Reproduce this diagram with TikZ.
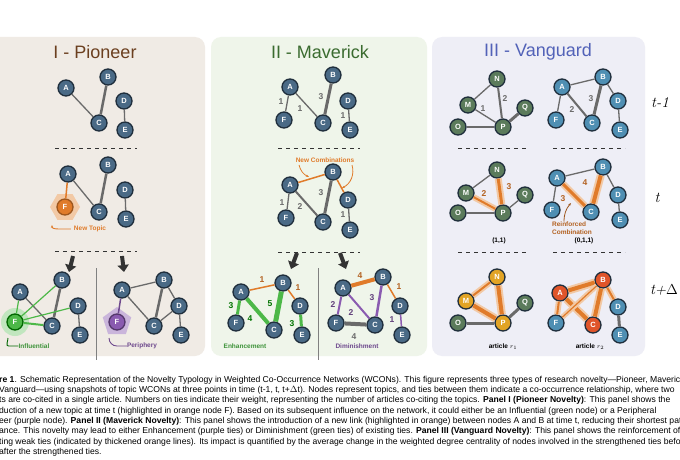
\documentclass[tikz,border=0pt]{standalone}
\usepackage{fontspec}
\setsansfont{Liberation Sans}
\usetikzlibrary{arrows.meta,shapes.geometric}
\definecolor{nodeblue}{HTML}{4A6A86}
\definecolor{lightblue}{HTML}{4F8FB3}
\definecolor{darkgreen}{HTML}{5B7B5B}
\definecolor{nodeborder}{HTML}{1F2E3C}
\definecolor{tiegray}{HTML}{6A6A6A}
\definecolor{ora}{HTML}{E07B2A}
\definecolor{orahalo}{HTML}{F2C9A5}
\definecolor{grn}{HTML}{4DB848}
\definecolor{pur}{HTML}{8A5BB0}
\definecolor{yel}{HTML}{E2A425}
\definecolor{redn}{HTML}{E0552A}
\definecolor{bgone}{HTML}{F0EBE5}
\definecolor{bgtwo}{HTML}{EFF5EA}
\definecolor{bgthree}{HTML}{EEEEF6}
\definecolor{ttlone}{HTML}{6B3F1F}
\definecolor{ttltwo}{HTML}{3A6B2F}
\definecolor{ttlthree}{HTML}{5262B8}

\begin{document}
\begin{tikzpicture}[x=1pt,y=-1pt,
    every node/.style={inner sep=0pt},
    tn/.style={draw=nodeborder,line width=1.3pt,circle,minimum size=16pt,fill=nodeblue,text=white,font=\sffamily\bfseries\fontsize{7.5}{8}\selectfont},
    tie/.style={draw=tiegray,line width=#1},
    tie/.default=1.3pt,
    hl/.style={draw=ora,line width=#1,preaction={draw=orahalo,line width=#1+4pt}},
    hl/.default=1.5pt,
    wl/.style={font=\sffamily\bfseries\fontsize{8.5}{9}\selectfont,text=tiegray},
    lab/.style={font=\sffamily\bfseries\fontsize{6.5}{7.5}\selectfont},
    sep/.style={draw=black!80,line width=1pt,dash pattern=on 4pt off 4pt},
    bigarrow/.style={draw=black!80,line width=4pt,-{Triangle[length=7pt,width=11pt]}},
    ttl/.style={font=\sffamily\fontsize{18}{21}\selectfont},
    tl/.style={font=\itshape\fontsize{15}{18}\selectfont}]
\useasboundingbox (0,0) rectangle (680,460);
\fill[white] (0,0) rectangle (680,460);

% panels
\fill[bgone,rounded corners=10pt] (-10,37) rectangle (205,356);
\fill[bgtwo,rounded corners=10pt] (211,37) rectangle (427,356);
\fill[bgthree,rounded corners=10pt] (432,37) rectangle (645,356);
\node[ttl,text=ttlone] (t1) at (95,52) {I - Pioneer};
\node[ttl,text=ttltwo] (t2) at (320,52) {II - Maverick};
\node[ttl,text=ttlthree] (t3) at (538,52) {III - Vanguard};

% time labels
\node[tl] (tA) at (660,103) {t-1};
\node[tl] (tB) at (657,198) {t};
\node[tl] (tC) at (664,290) {t+$\Delta$};

% dashed separators
\draw[sep] (55,148) -- (137,148);
\draw[sep] (55,251) -- (137,251);
\draw[sep] (278,148) -- (360,148);
\draw[sep] (278,252) -- (360,252);
\draw[sep] (458,148) -- (528,148);
\draw[sep] (553,148) -- (625,148);
\draw[sep] (458,252) -- (528,252);
\draw[sep] (553,252) -- (625,252);
\draw[gray,line width=0.8pt] (96,268) -- (96,360);
\draw[gray,line width=0.8pt] (318,268) -- (318,360);

% ---------- Panel I ----------
\node[tn] (pA) at (66,88) {A};
\node[tn] (pB) at (108,77) {B};
\node[tn] (pC) at (99,123) {C};
\node[tn] (pD) at (124,101) {D};
\node[tn] (pE) at (125,130) {E};
\path (pA) edge[tie] (pC) (pB) edge[tie=2.5pt] (pC) (pD) edge[tie] (pE);

\node[regular polygon,regular polygon sides=6,fill=orahalo,minimum size=30pt] (qHex) at (65,207) {};
\node[tn,fill=ora,draw=ora!70!black] (qF) at (65,207) {F};
\node[tn] (qA) at (68,174) {A};
\node[tn] (qB) at (108,165) {B};
\node[tn] (qC) at (99,212) {C};
\node[tn] (qD) at (125,190) {D};
\node[tn] (qE) at (126,219) {E};
\path (qA) edge[draw=ora,line width=1.5pt] (qF) (qA) edge[tie] (qC) (qB) edge[tie=2.5pt] (qC) (qD) edge[tie] (qE);
\node[lab,text=ora] (qNew) at (90,229) {New Topic};
\coordinate (qHook) at (52,225);
\draw[ora,line width=0.9pt,-{Stealth[length=3pt]}] (qNew.west) ++(-3,0) -- ++(-9,0) to[out=180,in=-90] (qHook);

\coordinate (pa1) at (73,256);
\coordinate (pa2) at (122,256);
\draw[bigarrow] (pa1) -- ++(-4,16);
\draw[bigarrow] (pa2) -- ++(2,16);

\node[circle,fill=grn!35,minimum size=28pt] (rGlow) at (15,322) {};
\node[tn,fill=grn,draw=green!40!black] (rF) at (15,322) {F};
\node[tn] (rA) at (20,292) {A};
\node[tn] (rB) at (62,280) {B};
\node[tn] (rC) at (52,326) {C};
\node[tn] (rD) at (78,306) {D};
\node[tn] (rE) at (80,335) {E};
\path (rA) edge[tie] (rC) (rB) edge[tie=2.5pt] (rC) (rD) edge[tie] (rE);
\path[draw=grn,line width=1.2pt] (rF) edge (rA) (rF) edge (rB) (rF) edge (rD) (rF) edge[line width=2pt] (rC);
\node[lab,text=grn!80!black] (rLab) at (34,346) {Influential};
\coordinate (rHook) at (8,338);
\draw[green!40!black,line width=0.9pt] (rLab.west) -- ++(-10,0) to[out=180,in=-90] (rHook);

\node[regular polygon,regular polygon sides=5,fill=pur!45,minimum size=30pt] (sPen) at (117,322) {};
\node[tn,fill=pur,draw=pur!60!black] (sF) at (117,322) {F};
\node[tn] (sA) at (122,290) {A};
\node[tn] (sB) at (164,280) {B};
\node[tn] (sC) at (154,326) {C};
\node[tn] (sD) at (179,306) {D};
\node[tn] (sE) at (181,335) {E};
\path (sA) edge[tie] (sB) (sA) edge[tie] (sC) (sB) edge[tie=2.5pt] (sC) (sB) edge[tie] (sD)
      (sD) edge[tie] (sC) (sD) edge[tie] (sE) (sA) edge[draw=pur!80!black,line width=1.5pt] (sF);
\node[lab,text=pur!80!black] (sLab) at (142,346) {Periphery};
\coordinate (sHook) at (109,338);
\draw[pur!80!black,line width=0.9pt] (sLab.west) -- ++(-10,0) to[out=180,in=-90] (sHook);

% ---------- Panel II ----------
\node[tn] (mA) at (290,87) {A};
\node[tn] (mB) at (333,75) {B};
\node[tn] (mC) at (323,123) {C};
\node[tn] (mD) at (348,101) {D};
\node[tn] (mE) at (350,130) {E};
\node[tn] (mF) at (284,120) {F};
\path (mA) edge[tie] (mF) (mA) edge[tie] (mC) (mB) edge[tie=3pt] (mC) (mD) edge[tie] (mE);
\node[wl] (mw1) at (281,102) {1};
\node[wl] (mw2) at (300,109) {1};
\node[wl] (mw3) at (321,97) {3};
\node[wl] (mw4) at (343,116) {1};

\node[tn] (nA) at (290,185) {A};
\node[tn] (nB) at (333,172) {B};
\node[tn] (nC) at (323,222) {C};
\node[tn] (nD) at (348,200) {D};
\node[tn] (nE) at (350,230) {E};
\node[tn] (nF) at (286,218) {F};
\path (nA) edge[draw=ora,line width=1.5pt] (nB) (nB) edge[draw=ora,line width=1.5pt] (nD)
      (nA) edge[tie] (nF) (nA) edge[tie=2pt] (nC) (nB) edge[tie=3pt] (nC) (nD) edge[tie] (nE);
\node[wl] (nw1) at (282,203) {1};
\node[wl] (nw2) at (300,207) {2};
\node[wl] (nw3) at (321,193) {3};
\node[wl] (nw4) at (343,215) {1};
\node[lab,text=ora] (nNew) at (325,160) {New Combinations};
\coordinate (nAB) at (309,177);
\coordinate (nBD) at (342,188);
\draw[ora,line width=0.8pt,-{Stealth[length=3pt]}] (299,165) to[bend right=25] (nAB);
\draw[ora,line width=0.8pt,-{Stealth[length=3pt]}] (352,165) to[bend left=40] (nBD);

\coordinate (ma1) at (297,253);
\coordinate (ma2) at (340,253);
\draw[bigarrow] (ma1) -- ++(-6,16);
\draw[bigarrow] (ma2) -- ++(6,16);

\node[tn] (eA) at (241,292) {A};
\node[tn] (eB) at (283,283) {B};
\node[tn] (eC) at (274,330) {C};
\node[tn] (eD) at (300,306) {D};
\node[tn] (eE) at (302,335) {E};
\node[tn] (eF) at (236,323) {F};
\path (eA) edge[draw=ora,line width=1.5pt] (eB) (eB) edge[draw=ora,line width=1.5pt] (eD)
      (eA) edge[draw=grn,line width=3pt] (eF) (eA) edge[draw=grn,line width=4pt] (eC)
      (eB) edge[draw=grn,line width=5pt] (eC) (eD) edge[draw=grn,line width=3pt] (eE);
\node[wl,text=ora!80!black] (ew1) at (262,280) {1};
\node[wl,text=ora!80!black] (ew2) at (298,288) {1};
\node[wl,text=green!45!black] (ew3) at (231,306) {3};
\node[wl,text=green!45!black] (ew4) at (250,319) {4};
\node[wl,text=green!45!black] (ew5) at (270,304) {5};
\node[wl,text=green!45!black] (ew6) at (292,324) {3};
\node[lab,text=grn!80!black] (eLab) at (245,346) {Enhancement};

\node[tn] (dA) at (343,288) {A};
\node[tn] (dB) at (383,277) {B};
\node[tn] (dC) at (375,325) {C};
\node[tn] (dD) at (400,306) {D};
\node[tn] (dE) at (402,335) {E};
\node[tn] (dF) at (336,323) {F};
\path (dA) edge[draw=ora,line width=4pt] (dB) (dB) edge[draw=ora,line width=1.5pt] (dD)
      (dF) edge[tie=4pt] (dC)
      (dA) edge[draw=pur,line width=2pt] (dF) (dA) edge[draw=pur,line width=2pt] (dC)
      (dB) edge[draw=pur,line width=2.5pt] (dC) (dD) edge[draw=pur,line width=1.5pt] (dE);
\node[wl,text=ora!80!black] (dw1) at (360,276) {4};
\node[wl,text=ora!80!black] (dw2) at (399,287) {1};
\node[wl,text=pur!70!black] (dw3) at (333,305) {2};
\node[wl,text=pur!70!black] (dw4) at (351,313) {2};
\node[wl,text=pur!70!black] (dw5) at (372,298) {3};
\node[wl,text=pur!70!black] (dw6) at (392,320) {1};
\node[wl] (dw7) at (354,337) {4};
\node[lab,text=pur!80!black] (dLab) at (357,346) {Diminishment};

% ---------- Panel III ----------
\tikzset{gn/.style={tn,fill=darkgreen},bn/.style={tn,fill=lightblue}}
\node[gn] (vN) at (497,79) {N};
\node[gn] (vM) at (468,105) {M};
\node[gn] (vO) at (458,127) {O};
\node[gn] (vP) at (503,127) {P};
\node[gn] (vQ) at (525,108) {Q};
\path (vM) edge[tie] (vN) (vM) edge[tie] (vP) (vN) edge[tie=2pt] (vP) (vO) edge[tie] (vP) (vP) edge[tie=3pt] (vQ);
\node[wl] (vw1) at (483,109) {1};
\node[wl] (vw2) at (505,99) {2};

\node[bn] (wA) at (562,87) {A};
\node[bn] (wB) at (603,77) {B};
\node[bn] (wC) at (592,123) {C};
\node[bn] (wD) at (618,101) {D};
\node[bn] (wE) at (620,130) {E};
\node[bn] (wF) at (556,120) {F};
\path (wA) edge[tie] (wB) (wA) edge[tie] (wF) (wA) edge[tie=2pt] (wC) (wB) edge[tie=3pt] (wC)
      (wB) edge[tie] (wD) (wD) edge[tie] (wE);
\node[wl] (ww1) at (572,110) {2};
\node[wl] (ww2) at (591,99) {3};

\node[gn] (xN) at (497,170) {N};
\node[gn] (xM) at (466,193) {M};
\node[gn] (xO) at (458,213) {O};
\node[gn] (xP) at (503,213) {P};
\node[gn] (xQ) at (525,195) {Q};
\path (xM) edge[tie] (xN) (xO) edge[tie] (xP) (xP) edge[tie] (xQ);
\path (xM) edge[hl=2pt] (xP) (xN) edge[hl=3pt] (xP);
\node[wl,text=ora!80!black] (xw1) at (484,194) {2};
\node[wl,text=ora!80!black] (xw2) at (509,187) {3};
\node[lab] (xLab) at (499,241) {(1,1)};

\node[bn] (yA) at (557,178) {A};
\node[bn] (yB) at (603,167) {B};
\node[bn] (yC) at (591,212) {C};
\node[bn] (yD) at (618,195) {D};
\node[bn] (yE) at (620,220) {E};
\node[bn] (yF) at (552,210) {F};
\path (yA) edge[tie] (yB) (yA) edge[tie] (yF) (yB) edge[tie] (yD) (yD) edge[tie] (yE);
\path (yA) edge[hl=3pt] (yC) (yB) edge[hl=4pt] (yC);
\node[wl,text=ora!80!black] (yw1) at (563,199) {3};
\node[wl,text=ora!80!black] (yw2) at (585,183) {4};
\node[lab,text=ora!80!black,align=left] (yLab) at (572,228) {Reinforced\\Combination};
\coordinate (yTip) at (571,203);
\draw[ora!70!black,line width=0.8pt,-{Stealth[length=3pt]}] (yLab.north) ++(-8,0) to[bend left=20] (yTip);
\node[lab] (yTup) at (584,241) {(0,1,1)};

\node[tn,fill=yel] (zN) at (497,277) {N};
\node[tn,fill=yel] (zM) at (466,301) {M};
\node[gn] (zO) at (458,323) {O};
\node[tn,fill=yel] (zP) at (503,323) {P};
\node[gn] (zQ) at (525,303) {Q};
\path (zO) edge[tie=3pt] (zP) (zP) edge[tie=3pt] (zQ);
\path (zM) edge[hl=2pt] (zN) (zM) edge[hl=4pt] (zP) (zN) edge[hl=4pt] (zP);
\node[lab] (zLab) at (503,347) {article $r_1$};

\node[tn,fill=redn] (uA) at (560,293) {A};
\node[tn,fill=redn] (uB) at (603,280) {B};
\node[tn,fill=redn] (uC) at (593,325) {C};
\node[bn] (uD) at (618,307) {D};
\node[bn] (uE) at (620,335) {E};
\node[bn] (uF) at (556,323) {F};
\path (uD) edge[tie=3pt] (uE);
\path (uA) edge[hl=4pt] (uB) (uA) edge[hl=2pt] (uF) (uA) edge[hl=4pt] (uC) (uB) edge[hl=4pt] (uC)
      (uB) edge[hl=1.2pt] (uF) (uB) edge[hl=2pt] (uD);
\node[lab] (uLab) at (590,347) {article $r_2$};

% ---------- caption ----------
\begin{scope}[every node/.style={anchor=west,inner sep=0pt,font=\sffamily\fontsize{8.6}{10}\selectfont}]
\node (c1) at (-1,380) {\textbf{re 1}. Schematic Representation of the Novelty Typology in Weighted Co-Occurrence Networks (WCONs). This figure represents three types of research novelty---Pioneer, Maverick,};
\node (c2) at (-1,390.3) {Vanguard---using snapshots of topic WCONs at three points in time (t-1, t, t+$\Delta$t). Nodes represent topics, and ties between them indicate a co-occurrence relationship, where two};
\node (c3) at (-1,400.6) {ts are co-cited in a single article. Numbers on ties indicate their weight, representing the number of articles co-citing the topics. \textbf{Panel I (Pioneer Novelty)}: This panel shows the};
\node (c4) at (-1,410.9) {duction of a new topic at time t (highlighted in orange node F). Based on its subsequent influence on the network, it could either be an Influential (green node) or a Peripheral};
\node (c5) at (-1,421.2) {eer (purple node). \textbf{Panel II (Maverick Novelty)}: This panel shows the introduction of a new link (highlighted in orange) between nodes A and B at time t, reducing their shortest path};
\node (c6) at (-1,431.5) {ance. This novelty may lead to either Enhancement (purple ties) or Diminishment (green ties) of existing ties. \textbf{Panel III (Vanguard Novelty)}: This panel shows the reinforcement of};
\node (c7) at (-1,441.8) {ting weak ties (indicated by thickened orange lines). Its impact is quantified by the average change in the weighted degree centrality of nodes involved in the strengthened ties before};
\node (c8) at (-1,452.1) {after the strengthened ties.};
\end{scope}
\end{tikzpicture}
\end{document}
